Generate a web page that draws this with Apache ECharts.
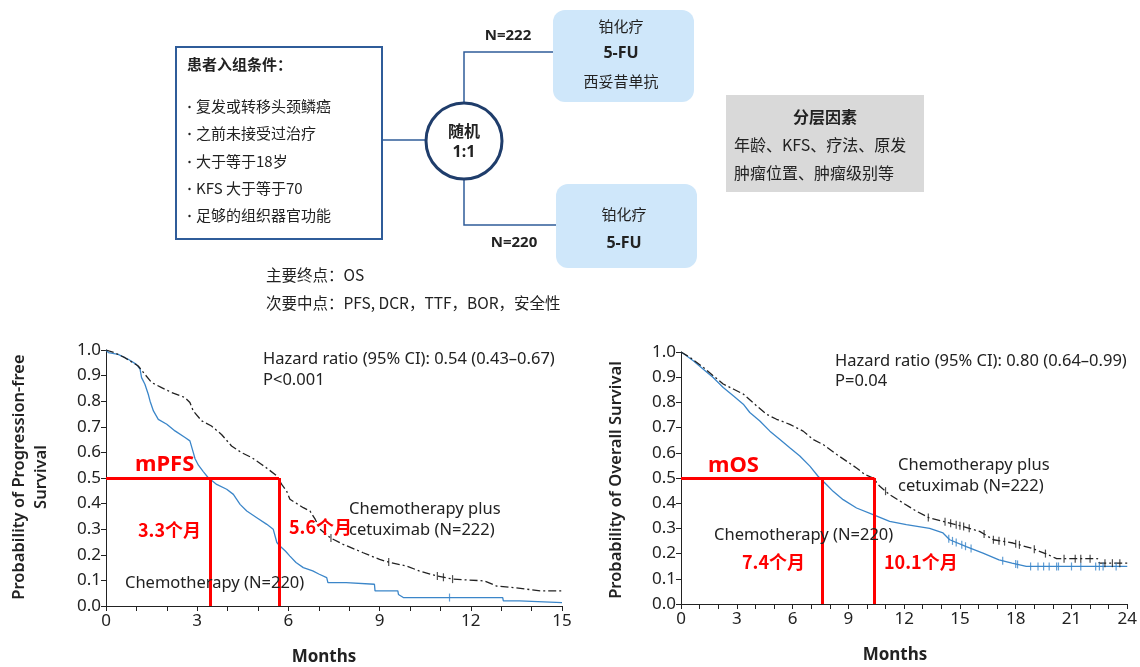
<!DOCTYPE html>
<html>
<head>
<meta charset="utf-8">
<script src="https://cdn.jsdelivr.net/npm/echarts@6/dist/echarts.min.js"></script>
<style>
  html, body { margin: 0; padding: 0; background: #fff; }
  #chart { width: 1140px; height: 667px; }
</style>
</head>
<body>
<div id="chart"></div>
<script>
// PFS, months -> survival probability
const pfsChemoT = [0, 0.08, 0.4, 0.73, 1.0, 1.12, 1.17, 1.28, 1.39, 1.45, 1.56, 1.72, 2.0, 2.27, 2.6, 2.76, 2.87, 2.93, 3.04, 3.2, 3.37, 3.5, 3.64, 3.97, 4.19, 4.41, 4.63, 4.96, 5.29, 5.5, 5.62, 5.72, 5.9, 6.05, 6.25, 6.49, 6.8, 7.0, 7.26, 7.3, 7.9, 7.92, 8.83, 8.85, 9.6, 9.62, 9.78, 13.05, 13.07, 13.6, 13.62, 15]
const pfsChemoS = [1.0, 0.99, 0.983, 0.964, 0.944, 0.925, 0.892, 0.866, 0.827, 0.80, 0.762, 0.729, 0.71, 0.684, 0.658, 0.645, 0.60, 0.575, 0.55, 0.525, 0.50, 0.488, 0.475, 0.456, 0.436, 0.397, 0.371, 0.345, 0.319, 0.30, 0.248, 0.234, 0.215, 0.195, 0.17, 0.15, 0.137, 0.125, 0.111, 0.091, 0.091, 0.085, 0.085, 0.059, 0.059, 0.045, 0.033, 0.033, 0.02, 0.02, 0.013, 0.013]
const pfsCetuxT = [0, 0.27, 0.62, 1.06, 1.28, 1.5, 1.83, 2.16, 2.6, 2.76, 2.87, 3.15, 3.47, 3.8, 4.13, 4.46, 4.79, 5.12, 5.34, 5.62, 5.78, 5.94, 6.05, 6.49, 6.71, 6.88, 7.04, 7.37, 7.8, 8.46, 9.0, 9.34, 9.9, 10.3, 10.9, 11.4, 12.45, 12.5, 12.85, 13.4, 14.3, 15]
const pfsCetuxS = [1.0, 0.99, 0.97, 0.9375, 0.905, 0.873, 0.853, 0.834, 0.814, 0.795, 0.762, 0.723, 0.703, 0.67, 0.625, 0.599, 0.58, 0.553, 0.534, 0.508, 0.475, 0.449, 0.417, 0.384, 0.371, 0.339, 0.30, 0.267, 0.241, 0.208, 0.182, 0.17, 0.156, 0.137, 0.117, 0.105, 0.098, 0.098, 0.078, 0.072, 0.059, 0.059]
const pfsChemoCensor = [11.3]
const pfsCetuxCensor = [7.4, 9.3, 10.9, 11.1, 11.4]

// OS
const osChemoT = [0, 0.2, 0.66, 1.2, 1.73, 2.27, 2.81, 3.35, 3.7, 4.24, 4.78, 5.32, 5.85, 6.39, 6.93, 7.37, 7.82, 8.18, 8.72, 9.44, 10.33, 11.22, 12.12, 13.37, 14.09, 14.45, 15.34, 16.24, 17.1, 17.8, 18.57, 24]
const osChemoS = [1.0, 0.99, 0.965, 0.932, 0.899, 0.859, 0.826, 0.793, 0.76, 0.726, 0.686, 0.653, 0.62, 0.587, 0.547, 0.507, 0.474, 0.447, 0.414, 0.381, 0.355, 0.328, 0.315, 0.30, 0.282, 0.255, 0.228, 0.202, 0.175, 0.162, 0.149, 0.149]
const osCetuxT = [0, 0.48, 1.2, 1.73, 2.27, 2.81, 3.35, 4.07, 4.6, 5.14, 5.85, 6.57, 7.1, 7.64, 8.36, 8.9, 9.44, 9.88, 10.33, 10.69, 11.22, 11.94, 12.66, 13.37, 14.09, 15.16, 16.06, 16.8, 17.85, 18.9, 19.6, 20.2, 22.4, 22.5, 24]
const osCetuxS = [1.0, 0.979, 0.939, 0.906, 0.873, 0.853, 0.833, 0.786, 0.753, 0.733, 0.713, 0.686, 0.653, 0.633, 0.594, 0.567, 0.54, 0.514, 0.50, 0.467, 0.434, 0.401, 0.368, 0.341, 0.328, 0.308, 0.288, 0.255, 0.242, 0.22, 0.20, 0.18, 0.18, 0.162, 0.162]
const osChemoCensor = [14.4, 14.6, 14.8, 15.1, 15.3, 15.6, 17.3, 18.0, 18.1, 18.8, 19.2, 19.5, 19.8, 20.2, 20.3, 21.0, 21.5, 22.3, 22.5, 22.7, 23.4]
const osCetuxCensor = [11.0, 13.3, 14.2, 14.5, 14.8, 15.0, 15.2, 15.5, 16.3, 16.8, 17.1, 17.4, 18.0, 18.2, 19.0, 19.6, 20.6, 21.2, 21.5, 22.0, 22.8, 23.2, 23.6]

// medians marked in red: [chemo, chemo + cetuximab]
const pfsMedianX = [3.42, 5.69]
const osMedianX = [7.6, 10.4]
const pfsTicks = [0, 3, 6, 9, 12, 15]
const osTicks = [0, 3, 6, 9, 12, 15, 18, 21, 24]

const BLUE = '#3b86c9'
const DARK = '#222'
const RED = '#ff0000'
const LAT = '"Noto Sans", "Open Sans", sans-serif'
const CJK = '"Noto Sans CJK SC", sans-serif'

const pairs = (ts, ss) => ts.map((t, i) => [t, ss[i]])
const survAt = (t, ts, ss) => {
  for (let i = 1; i < ts.length; i++) {
    if (ts[i] >= t) {
      const f = (t - ts[i - 1]) / (ts[i] - ts[i - 1])
      return ss[i - 1] + f * (ss[i] - ss[i - 1])
    }
  }
  return ss[ss.length - 1]
}
const censor = (cs, ts, ss) => cs.map(t => [t, survAt(t, ts, ss)])

const xAxisBase = (idx, max) => ({
  gridIndex: idx,
  type: 'value',
  min: 0,
  max: max,
  interval: 3,
  axisLine: { lineStyle: { color: DARK, width: 1 } },
  axisTick: { show: true, length: 5, lineStyle: { color: DARK } },
  minorTick: { show: true, splitNumber: 3, length: 5, lineStyle: { color: DARK } },
  axisLabel: { fontFamily: LAT, fontSize: 17, color: DARK, margin: 7 },
  splitLine: { show: false }
})
const yAxisBase = idx => ({
  gridIndex: idx,
  type: 'value',
  min: 0,
  max: 1,
  interval: 0.1,
  axisLine: { show: true, lineStyle: { color: DARK, width: 1 } },
  axisTick: { show: true, length: 5, lineStyle: { color: DARK } },
  axisLabel: { fontFamily: LAT, fontSize: 17, color: DARK, margin: 5, formatter: v => v.toFixed(1) },
  splitLine: { show: false }
})

const kmLine = (name, idx, data, color, dashed) => ({
  name,
  type: 'line',
  xAxisIndex: idx,
  yAxisIndex: idx,
  showSymbol: false,
  silent: true,
  data,
  lineStyle: { color, width: 1.3, type: dashed ? [8, 3, 2, 3] : 'solid' },
  z: 3
})
const censorMarks = (idx, data, color) => ({
  type: 'scatter',
  xAxisIndex: idx,
  yAxisIndex: idx,
  symbol: 'rect',
  symbolSize: [1.2, 8],
  itemStyle: { color },
  silent: true,
  data,
  z: 3
})
const medianLines = (idx, xs) => ({
  type: 'line',
  xAxisIndex: idx,
  yAxisIndex: idx,
  data: [],
  markLine: {
    silent: true,
    symbol: 'none',
    label: { show: false },
    lineStyle: { color: RED, width: 3, type: 'solid' },
    data: [
      [{ coord: [0, 0.5] }, { coord: [Math.max(...xs), 0.5] }],
      ...xs.map(x => [{ coord: [x, 0.5] }, { coord: [x, 0] }])
    ]
  },
  z: 5
})

const txt = (text, x, y, opts = {}) => ({
  type: 'text',
  x, y,
  silent: true,
  z: opts.z || 10,
  rotation: opts.rotation || 0,
  style: {
    text,
    font: `${opts.weight || 'normal'} ${opts.size || 15}px ${opts.family || CJK}`,
    fill: opts.color || DARK,
    textAlign: opts.align || 'left',
    textVerticalAlign: opts.valign || 'middle',
    lineHeight: opts.lineHeight
  }
})
const line = (points, color, width) => ({
  type: 'polyline', silent: true,
  shape: { points },
  style: { stroke: color, lineWidth: width, fill: null }
})
const bullet = (text, y) => [
  { type: 'circle', silent: true, shape: { cx: 189.5, cy: y + 1, r: 1.2 }, style: { fill: DARK } },
  txt(text, 196, y, { size: 15 })
]

const flowGraphics = [
  // enrolment criteria box
  { type: 'rect', shape: { x: 176, y: 47, width: 206, height: 192 }, style: { fill: '#fff', stroke: '#2f5c99', lineWidth: 2 } },
  txt('患者入组条件：', 187, 64, { weight: 'bold', size: 15 }),
  ...bullet('复发或转移头颈鳞癌', 106),
  ...bullet('之前未接受过治疗', 133),
  ...bullet('大于等于18岁', 161),
  ...bullet('KFS 大于等于70', 188),
  ...bullet('足够的组织器官功能', 215),
  // connectors
  line([[382, 140], [426, 140]], '#2f5c99', 1.5),
  line([[464, 103], [464, 52], [553, 52]], '#2f5c99', 1.5),
  line([[464, 179], [464, 225], [556, 225]], '#2f5c99', 1.5),
  { type: 'circle', shape: { cx: 464, cy: 141, r: 38 }, style: { fill: '#fff', stroke: '#1f3d6b', lineWidth: 3 } },
  txt('随机', 464, 131, { weight: 'bold', size: 16, align: 'center' }),
  txt('1:1', 464, 152, { weight: 'bold', size: 16, align: 'center', family: LAT }),
  txt('N=222', 508, 36, { weight: 'bold', size: 15, align: 'center', family: LAT }),
  txt('N=220', 514, 243, { weight: 'bold', size: 15, align: 'center', family: LAT }),
  // arms
  { type: 'rect', shape: { x: 553, y: 10, width: 141, height: 92, r: 12 }, style: { fill: '#cfe7fa' } },
  txt('铂化疗', 621, 26, { size: 15, align: 'center' }),
  txt('5-FU', 621, 53, { size: 16, weight: 'bold', align: 'center', family: LAT }),
  txt('西妥昔单抗', 621, 81, { size: 15, align: 'center' }),
  { type: 'rect', shape: { x: 556, y: 184, width: 141, height: 84, r: 12 }, style: { fill: '#cfe7fa' } },
  txt('铂化疗', 624, 214, { size: 15, align: 'center' }),
  txt('5-FU', 624, 243, { size: 16, weight: 'bold', align: 'center', family: LAT }),
  // stratification box
  { type: 'rect', shape: { x: 726, y: 95, width: 198, height: 97 }, style: { fill: '#d9d9d9' } },
  txt('分层因素', 825, 117, { weight: 'bold', size: 16, align: 'center' }),
  txt('年龄、KFS、疗法、原发', 734, 145, { size: 16 }),
  txt('肿瘤位置、肿瘤级别等', 734, 173, { size: 16 }),
  // endpoints
  txt('主要终点：OS', 266, 275, { size: 15.5 }),
  txt('次要中点：PFS, DCR，TTF，BOR，安全性', 266, 303, { size: 15.5 })
]

const plotGraphics = [
  // PFS panel
  txt('Probability of Progression-free\nSurvival', 30, 477, { rotation: Math.PI / 2, size: 16.5, weight: '600', family: LAT, align: 'center', lineHeight: 22 }),
  txt('Months', 324, 657, { size: 17, weight: 'bold', family: LAT, align: 'center' }),
  txt('Hazard ratio (95% CI): 0.54 (0.43–0.67)', 263, 359, { size: 16.5, family: LAT }),
  txt('P<0.001', 263, 380, { size: 16.5, family: LAT }),
  txt('Chemotherapy plus', 349, 509, { size: 16.5, family: LAT }),
  txt('cetuximab (N=222)', 349, 530, { size: 16.5, family: LAT }),
  txt('Chemotherapy (N=220)', 125, 583, { size: 16.5, family: LAT }),
  txt('mPFS', 135, 465, { size: 22, weight: 'bold', family: LAT, color: RED }),
  txt('3.3个月', 138, 530, { size: 18, weight: 'bold', color: RED }),
  txt('5.6个月', 289, 527, { size: 18, weight: 'bold', color: RED }),
  // OS panel
  txt('Probability of Overall Survival', 616, 480, { rotation: Math.PI / 2, size: 16.5, weight: '600', family: LAT, align: 'center' }),
  txt('Months', 895, 655, { size: 17, weight: 'bold', family: LAT, align: 'center' }),
  txt('Hazard ratio (95% CI): 0.80 (0.64–0.99)', 835, 361, { size: 16.5, family: LAT }),
  txt('P=0.04', 835, 381, { size: 16.5, family: LAT }),
  txt('Chemotherapy plus', 898, 465, { size: 16.5, family: LAT }),
  txt('cetuximab (N=222)', 898, 486, { size: 16.5, family: LAT }),
  txt('Chemotherapy (N=220)', 714, 535, { size: 16.5, family: LAT }),
  txt('mOS', 708, 466, { size: 22, weight: 'bold', family: LAT, color: RED }),
  txt('7.4个月', 742, 562, { size: 18, weight: 'bold', color: RED }),
  txt('10.1个月', 884, 562, { size: 18, weight: 'bold', color: RED })
]

const chart = echarts.init(document.getElementById('chart'), null, { renderer: 'canvas' })
chart.setOption({
  animation: false,
  backgroundColor: '#fff',
  grid: [
    { left: 106, top: 350, width: 456, height: 256 },
    { left: 681, top: 352, width: 447, height: 252 }
  ],
  xAxis: [xAxisBase(0, pfsTicks[pfsTicks.length - 1]), xAxisBase(1, osTicks[osTicks.length - 1])],
  yAxis: [yAxisBase(0), yAxisBase(1)],
  graphic: { elements: [...flowGraphics, ...plotGraphics] },
  series: [
    kmLine('PFS chemotherapy', 0, pairs(pfsChemoT, pfsChemoS), BLUE, false),
    kmLine('PFS chemotherapy plus cetuximab', 0, pairs(pfsCetuxT, pfsCetuxS), DARK, true),
    censorMarks(0, censor(pfsChemoCensor, pfsChemoT, pfsChemoS), BLUE),
    censorMarks(0, censor(pfsCetuxCensor, pfsCetuxT, pfsCetuxS), DARK),
    medianLines(0, pfsMedianX),
    kmLine('OS chemotherapy', 1, pairs(osChemoT, osChemoS), BLUE, false),
    kmLine('OS chemotherapy plus cetuximab', 1, pairs(osCetuxT, osCetuxS), DARK, true),
    censorMarks(1, censor(osChemoCensor, osChemoT, osChemoS), BLUE),
    censorMarks(1, censor(osCetuxCensor, osCetuxT, osCetuxS), DARK),
    medianLines(1, osMedianX)
  ]
})
</script>
</body>
</html>
